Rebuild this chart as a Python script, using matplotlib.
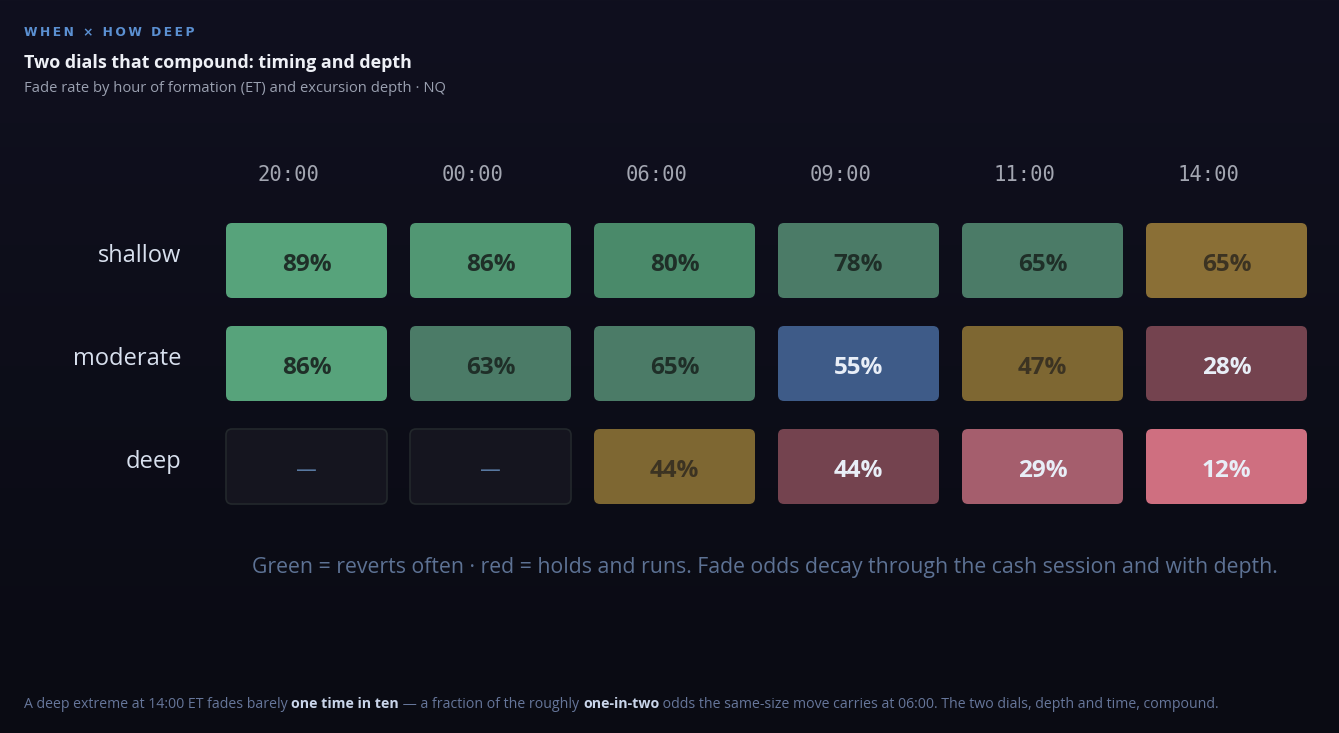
import numpy as np
import matplotlib.pyplot as plt
from matplotlib.patches import FancyBboxPatch
from matplotlib.colors import LinearSegmentedColormap

# Data
hours = ["20:00", "00:00", "06:00", "09:00", "11:00", "14:00"]
depths = ["shallow", "moderate", "deep"]
fade_shallow = [89, 86, 80, 78, 65, 65]
fade_moderate = [86, 63, 65, 55, 47, 28]
fade_deep = [None, None, 44, 44, 29, 12]

# cell styling (colour per cell, as in the reference)
GREEN1, GREEN2, GREEN3, GREEN4 = "#57a37b", "#519773", "#4a8a6a", "#4b7b67"
GOLD1, GOLD2 = "#8a6f36", "#7e6732"
BLUE = "#3e5b88"
RED1, RED2, RED3 = "#74434f", "#a55e6d", "#cf6f80"
cell_colors = [
    [GREEN1, GREEN2, GREEN3, GREEN4, GREEN4, GOLD1],
    [GREEN1, GREEN4, GREEN4, BLUE, GOLD2, RED1],
    [None, None, GOLD2, RED1, RED2, RED3],
]
light_cells = {BLUE, RED1, RED2, RED3}

plt.rcParams['font.family'] = ['Open Sans', 'DejaVu Sans']

W, H = 1339, 733
fig = plt.figure(figsize=(W / 100, H / 100), dpi=100)

# background gradient
bg = fig.add_axes([0, 0, 1, 1])
grad = np.linspace(0, 1, 256).reshape(-1, 1)
cmap = LinearSegmentedColormap.from_list("bg", ["#10101f", "#0a0b13"])
bg.imshow(grad, aspect="auto", cmap=cmap, extent=[0, 1, 0, 1])
bg.axis("off")

# grid axes: pixel frame 214.5..1318.5 x, 209..518 y
left, right, top, bottom = 214.5, 1318.5, 209, 518
ax = fig.add_axes([left / W, 1 - bottom / H, (right - left) / W, (bottom - top) / H])
ax.set_xlim(-0.5, len(hours) - 0.5)
ax.set_ylim(len(depths) - 0.5, -0.5)
ax.axis("off")

cw, ch = 161 / 184, 75 / 103
aspect = 184 / 103
rows = [fade_shallow, fade_moderate, fade_deep]
for r, vals in enumerate(rows):
    for c, v in enumerate(vals):
        col = cell_colors[r][c]
        if v is None:
            p = FancyBboxPatch((c - cw / 2, r - ch / 2), cw, ch,
                               boxstyle="round,pad=0,rounding_size=0.033",
                               mutation_aspect=aspect, fc="#15151f", ec="#23282c", lw=1.2)
            ax.add_patch(p)
            ax.text(c, r + 0.03, "—", ha="center", va="center", color="#5878a0",
                    fontsize=15, family="DejaVu Sans")
            continue
        p = FancyBboxPatch((c - cw / 2, r - ch / 2), cw, ch,
                           boxstyle="round,pad=0,rounding_size=0.033",
                           mutation_aspect=aspect, fc=col, ec="none")
        ax.add_patch(p)
        if col in light_cells:
            tc = "#e8eef7"
        elif col in (GOLD1, GOLD2):
            tc = "#3c3322"
        else:
            tc = "#1f2f28"
        ax.text(c, r + 0.04, f"{v}%", ha="center", va="center", color=tc,
                fontsize=17.5, fontweight="bold")

for c, h in enumerate(hours):
    ax.text(c - 0.1, -0.83, h, ha="center", va="center", color="#a3a6b1",
            fontsize=14.8, family="DejaVu Sans Mono", clip_on=False)
for r, d in enumerate(depths):
    ax.text(-0.682, r - 0.04, d, ha="right", va="center", color="#d8e0ee",
            fontsize=17, clip_on=False)

# header texts
fig.text(24 / W, 1 - 32 / H, "\u2009".join("WHEN × HOW DEEP"), ha="left", va="center",
         color="#5b90d2", fontsize=8.8, fontweight="bold", family=["DejaVu Sans"])
fig.text(24 / W, 1 - 63 / H, "Two dials that compound: timing and depth", ha="left",
         va="center", color="#eef0f6", fontsize=12.9, fontweight="bold")
fig.text(24 / W, 1 - 89 / H, "Fade rate by hour of formation (ET) and excursion depth · NQ",
         ha="left", va="center", color="#9aa0b0", fontsize=10.6)

fig.text(765 / W, 1 - 568 / H,
         "Green = reverts often · red = holds and runs. Fade odds decay through the cash session and with depth.",
         ha="center", va="center", color="#5d7294", fontsize=15.3)

# footer with bold fragments
pieces = [
    ("A deep extreme at 14:00 ET fades barely ", False),
    ("one time in ten", True),
    (" — a fraction of the roughly ", False),
    ("one-in-two", True),
    (" odds the same-size move carries at 06:00. The two dials, depth and time, compound.", False),
]
renderer = fig.canvas.get_renderer()
x = 24
for txt, bold in pieces:
    t = fig.text(x / W, 1 - 704 / H, txt, ha="left", va="center",
                 color="#c9d5ea" if bold else "#66769a", fontsize=10.2,
                 fontweight="bold" if bold else "normal")
    x += t.get_window_extent(renderer).width

fig.savefig("out.png", dpi=100, facecolor="#0d0d19")
